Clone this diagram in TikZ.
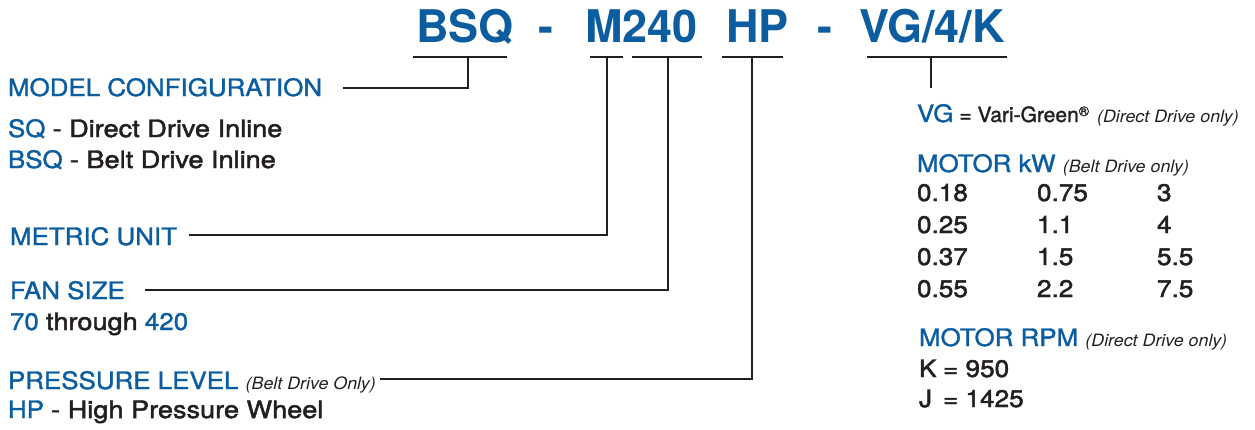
\documentclass[tikz,border=0pt]{standalone}
\usepackage{fontspec}
\setmainfont{TeX Gyre Heros}
\newfontfamily\lblfont[FakeStretch=1.08, FakeBold=1.4]{TeX Gyre Heros}
\newfontfamily\numfont[FakeStretch=1.09, FakeBold=2]{TeX Gyre Heros}
\newfontfamily\dkfont[FakeStretch=1.13, FakeBold=2]{TeX Gyre Heros}
\newfontfamily\notefont[FakeStretch=1.05]{TeX Gyre Heros}
\newfontfamily\vgfont[FakeBold=1.5]{TeX Gyre Heros}
\definecolor{fblue}{HTML}{0B5DA0}
\definecolor{fdark}{HTML}{231F20}
\tikzset{
  every node/.style={inner sep=0pt, outer sep=0pt, anchor=base west},
  ttl/.style={text=fblue, font=\fontsize{45}{50}\selectfont\bfseries},
  lbl/.style={text=fblue, font=\lblfont\fontsize{24}{28}\selectfont},
  txt/.style={text=fdark, font=\numfont\fontsize{24}{28}\selectfont},
  conn/.style={draw=fdark, line width=2.3pt},
}
\newcommand{\smnote}[1]{{\notefont\fontsize{17}{20}\selectfont\itshape\color{fdark}#1}}
\newcommand{\dk}[1]{{\dkfont\color{fdark}#1}}
\begin{document}
\begin{tikzpicture}[x=1pt,y=-1pt]
\useasboundingbox (0,0) rectangle (1255,429);
% title
\node[ttl] (tbsq) at (416,42) {BSQ};
\node[ttl] (td1) at (538,42) {-};
\node[ttl] (tm) at (585,42) {M240};
\node[ttl] (thp) at (726,42) {HP};
\node[ttl] (td2) at (817,42) {-};
\node[ttl] (tvg) at (859,42) {VG/4/K};
% underline coordinates
\coordinate (u1a) at (413,57); \coordinate (u1b) at (507,57); \coordinate (u1c) at (468,57);
\coordinate (u2a) at (590,57); \coordinate (u2b) at (623,57); \coordinate (u2c) at (607,57);
\coordinate (u3a) at (632,57); \coordinate (u3b) at (702,57); \coordinate (u3c) at (668,57);
\coordinate (u4a) at (722,57); \coordinate (u4b) at (783,57); \coordinate (u4c) at (752,57);
\coordinate (u5a) at (867,57); \coordinate (u5b) at (1007,57); \coordinate (u5c) at (931,57);
\coordinate (vgend) at (931,88);
\coordinate (mcL) at (343,88);
\coordinate (muL) at (189,235);
\coordinate (fsL) at (145,290);
\coordinate (plL) at (380,379);
% left labels
\node[lbl] (mc) at (8,96) {MODEL CONFIGURATION};
\node[lbl] (sq) at (8,137) {SQ \dk{- Direct Drive Inline}};
\node[lbl] (bsq) at (8,168) {BSQ \dk{- Belt Drive Inline}};
\node[lbl] (mu) at (10,245) {METRIC UNIT};
\node[lbl] (fs) at (10,299) {FAN SIZE};
\node[lbl] (fr) at (10,330) {70 \dk{through} 420};
\node[lbl] (pl) at (8,389) {PRESSURE LEVEL \smnote{(Belt Drive Only)}};
\node[lbl] (hp) at (8,418) {HP \dk{- High Pressure Wheel}};
% right side
\node[lbl] (vg) at (917,122) {VG\hspace{6pt}{\vgfont\fontsize{21}{24}\selectfont\color{fdark}= Vari-Green\raisebox{6pt}{\fontsize{14}{14}\selectfont\textregistered}}\hspace{8pt}\smnote{(Direct Drive only)}};
\node[lbl] (mkw) at (917,172) {MOTOR kW \smnote{(Belt Drive only)}};
\node[txt] (k1) at (917,201) {0.18};
\node[txt] (k2) at (1037,201) {0.75};
\node[txt] (k3) at (1157,201) {3};
\node[txt] (k4) at (917,233) {0.25};
\node[txt] (k5) at (1037,233) {1.1};
\node[txt] (k6) at (1157,233) {4};
\node[txt] (k7) at (917,265) {0.37};
\node[txt] (k8) at (1037,265) {1.5};
\node[txt] (k9) at (1157,265) {5.5};
\node[txt] (k10) at (917,297) {0.55};
\node[txt] (k11) at (1037,297) {2.2};
\node[txt] (k12) at (1157,297) {7.5};
\node[lbl] (rpm) at (919,346) {MOTOR RPM \smnote{(Direct Drive only)}};
\node[txt] (rk) at (919,377) {\makebox[24pt][l]{K}= 950};
\node[txt] (rj) at (919,407) {\makebox[24pt][l]{J}= 1425};
% connectors
\draw[conn] (u1a) -- (u1b);
\draw[conn] (u2a) -- (u2b);
\draw[conn] (u3a) -- (u3b);
\draw[conn] (u4a) -- (u4b);
\draw[conn] (u5a) -- (u5b);
\draw[conn] (mcL) -| (u1c);
\draw[conn] (muL) -| (u2c);
\draw[conn] (fsL) -| (u3c);
\draw[conn] (plL) -| (u4c);
\draw[conn] (u5c) -- (vgend);
\end{tikzpicture}
\end{document}
